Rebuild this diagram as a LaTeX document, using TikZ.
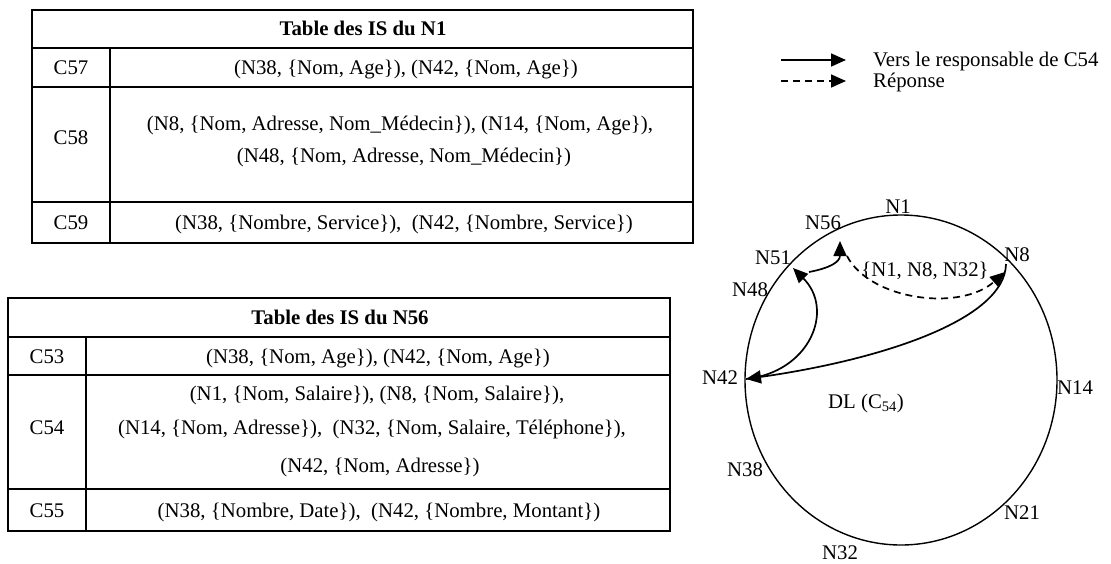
\documentclass[tikz,border=0pt]{standalone}
\usepackage{fontspec}
\setmainfont{Liberation Serif}
\usetikzlibrary{arrows.meta,shapes.geometric}
\begin{document}
\begin{tikzpicture}[x=1pt,y=-1pt,
  txt/.style={inner sep=0pt, text height=14pt, text depth=4pt, font=\fontsize{20.8}{25}\selectfont},
  hdr/.style={txt, font=\fontsize{20.8}{25}\selectfont\bfseries},
  lbl/.style={txt, anchor=west},
  grid/.style={line width=1.6pt},
  ring/.style={draw, ellipse, line width=1.4pt, inner sep=0pt},
  link/.style={line width=1.7pt, -{Triangle[length=15pt,width=13pt]}},
  reply/.style={link, dash pattern=on 7pt off 5pt}]
\useasboundingbox (0,0) rectangle (1111,563);

% ---- Table des IS du N1 ----
\draw[grid] (32,10) rectangle (693,243);
\draw[grid] (32,48) -- (693,48) (32,87) -- (693,87) (32,202) -- (693,202);
\draw[grid] (110,48) -- (110,243);
\node[hdr] (t1h) at (363,30) {Table des IS du N1};
\node[txt] (c57) at (71,69) {C57};
\node[txt] (c57v) at (406,69) {(N38, \{Nom, Age\}), (N42, \{Nom, Age\})};
\node[txt] (c58) at (71,139) {C58};
\node[txt] (c58a) at (400,125) {(N8, \{Nom, Adresse, Nom\_Médecin\}), (N14, \{Nom, Age\}),};
\node[txt] (c58b) at (404,157) {(N48, \{Nom, Adresse, Nom\_Médecin\})};
\node[txt] (c59) at (71,224) {C59};
\node[txt] (c59v) at (404,224) {(N38, \{Nombre, Service\}),\ \ (N42, \{Nombre, Service\})};

% ---- Table des IS du N56 ----
\draw[grid] (8,298) rectangle (670,531);
\draw[grid] (8,337) -- (670,337) (8,375) -- (670,375) (8,489) -- (670,489);
\draw[grid] (86,337) -- (86,531);
\node[hdr] (t2h) at (340,319) {Table des IS du N56};
\node[txt] (c53) at (47,358) {C53};
\node[txt] (c53v) at (378,358) {(N38, \{Nom, Age\}), (N42, \{Nom, Age\})};
\node[txt] (c54) at (47,429) {C54};
\node[txt] (c54a) at (377,395) {(N1, \{Nom, Salaire\}), (N8, \{Nom, Salaire\}),};
\node[txt] (c54b) at (372,429) {(N14, \{Nom, Adresse\}),\ \ (N32, \{Nom, Salaire, Téléphone\}),};
\node[txt] (c54c) at (380,467) {(N42, \{Nom, Adresse\})};
\node[txt] (c55) at (47,512) {C55};
\node[txt] (c55v) at (379,512) {(N38, \{Nombre, Date\}),\ \ (N42, \{Nombre, Montant\})};

% ---- Legend ----
\coordinate (ls0) at (781,60);
\coordinate (ls1) at (846,60);
\coordinate (ld0) at (781,81);
\coordinate (ld1) at (846,81);
\draw[link] (ls0) -- (ls1);
\draw[reply] (ld0) -- (ld1);
\node[lbl] (lgs) at (873,61) {Vers le responsable de C54};
\node[lbl] (lgd) at (873,82) {Réponse};

% ---- Ring ----
\node[ring, minimum width=312pt, minimum height=330pt] (dl) at (901,380) {};
\node[txt] (n1) at (898,208) {N1};
\node[txt] (n56) at (823,224) {N56};
\node[txt] (n51) at (773,259) {N51};
\node[txt] (n8) at (1017,256) {N8};
\node[txt] (n48) at (750,291) {N48};
\node[txt] (n42) at (720,379) {N42};
\node[txt] (n14) at (1075,389) {N14};
\node[txt] (n38) at (745,471) {N38};
\node[txt] (n21) at (1022,514) {N21};
\node[txt] (n32) at (840,554) {N32};
\node[txt] (dlc) at (866,403) {DL (C\textsubscript{54})};
\node[txt] (set) at (925,271) {\{N1, N8, N32\}};

% ---- Lookup path ----
\coordinate (p8) at (1006,264);
\coordinate (p42) at (746,379);
\coordinate (p51) at (793,268);
\coordinate (p51s) at (809,272);
\coordinate (p56) at (840,241);
\coordinate (p56s) at (847,256);
\coordinate (p8r) at (1005,272);
\draw[link] (p8) .. controls (1005,320) and (880,360) .. (p42);
\draw[link] (p42) .. controls (810,372) and (835,310) .. (p51);
\draw[link] (p51s) .. controls (830,268) and (840,262) .. (p56);
\draw[reply] (p56s) .. controls (870,300) and (960,312) .. (p8r);
\end{tikzpicture}
\end{document}
